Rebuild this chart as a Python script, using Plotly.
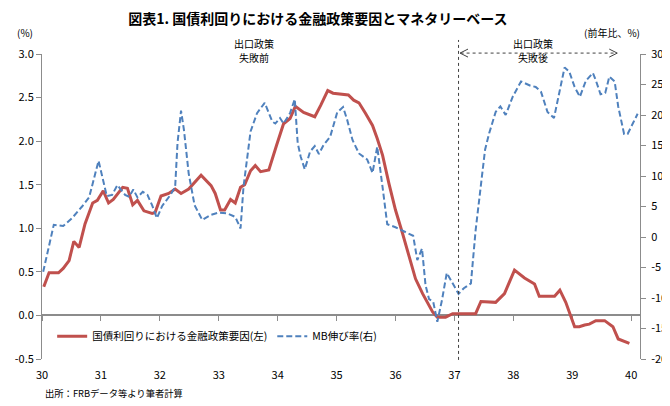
import plotly.graph_objects as go

# ---- data (x in years) ----
red_x = [30.03, 30.12, 30.28, 30.36, 30.46, 30.54, 30.63, 30.73, 30.86, 30.94,
         31.04, 31.13, 31.21, 31.37, 31.45, 31.54, 31.62, 31.73, 31.87, 31.92,
         32.02, 32.15, 32.26, 32.36, 32.49, 32.60, 32.70, 32.87, 32.94, 33.03,
         33.10, 33.20, 33.28, 33.37, 33.44, 33.54, 33.62, 33.71, 33.85, 33.98,
         34.10, 34.21, 34.30, 34.44, 34.63, 34.73, 34.85, 34.94, 35.20, 35.29,
         35.38, 35.49, 35.61, 35.69, 35.78, 35.89, 36.00, 36.12, 36.23, 36.34,
         36.46, 36.54, 36.63, 36.71, 36.85, 36.97, 37.36, 37.45, 37.70, 37.85,
         38.02, 38.19, 38.36, 38.44, 38.70, 38.79, 38.89, 39.04, 39.12, 39.21,
         39.29, 39.40, 39.55, 39.69, 39.78, 39.97]
red_y = [0.33, 0.49, 0.49, 0.54, 0.63, 0.85, 0.78, 1.05, 1.29, 1.32,
         1.43, 1.29, 1.33, 1.47, 1.46, 1.27, 1.32, 1.20, 1.17, 1.18,
         1.37, 1.40, 1.45, 1.40, 1.45, 1.54, 1.61, 1.49, 1.40, 1.21,
         1.21, 1.33, 1.29, 1.47, 1.50, 1.66, 1.72, 1.65, 1.67, 1.95,
         2.20, 2.26, 2.40, 2.33, 2.28, 2.41, 2.58, 2.55, 2.53, 2.47,
         2.44, 2.32, 2.18, 2.03, 1.84, 1.51, 1.21, 0.94, 0.67, 0.42,
         0.25, 0.15, 0.04, -0.02, -0.02, 0.02, 0.02, 0.16, 0.15, 0.25,
         0.52, 0.43, 0.36, 0.22, 0.22, 0.29, 0.15, -0.13, -0.13, -0.11,
         -0.10, -0.06, -0.06, -0.13, -0.27, -0.32]

blue_x = [30.02, 30.11, 30.20, 30.36, 30.51, 30.68, 30.80, 30.96, 31.10, 31.19,
          31.28, 31.41, 31.48, 31.55, 31.62, 31.71, 31.79, 31.87, 31.95, 32.04,
          32.18, 32.26, 32.30, 32.36, 32.41, 32.49, 32.59, 32.72, 32.86, 33.00,
          33.14, 33.28, 33.37, 33.42, 33.48, 33.54, 33.65, 33.78, 33.91, 33.96,
          34.04, 34.10, 34.21, 34.29, 34.34, 34.39, 34.46, 34.55, 34.63, 34.70,
          34.78, 34.89, 35.01, 35.11, 35.18, 35.27, 35.38, 35.52, 35.61, 35.69,
          35.78, 35.86, 36.00, 36.14, 36.30, 36.37, 36.45, 36.51, 36.57, 36.64,
          36.71, 36.79, 36.87, 36.97, 37.07, 37.16, 37.28, 37.36, 37.52, 37.59,
          37.70, 37.78, 37.87, 37.99, 38.13, 38.29, 38.38, 38.47, 38.58, 38.69,
          38.78, 38.87, 38.95, 39.04, 39.13, 39.23, 39.35, 39.40, 39.48, 39.56,
          39.63, 39.72, 39.78, 39.88, 39.94, 40.03, 40.11]
blue_y = [-5.7, -1.6, 2.0, 1.8, 3.1, 5.0, 6.5, 12.5, 6.7, 6.9,
          8.5, 6.9, 6.6, 7.8, 6.5, 7.4, 6.9, 5.2, 3.1, 5.1,
          6.9, 8.2, 15.4, 20.7, 17.5, 10.4, 5.2, 2.8, 3.6, 4.0,
          3.9, 3.3, 1.4, 8.2, 13.2, 17.3, 20.3, 22.0, 18.9, 18.6,
          19.5, 18.6, 20.3, 22.6, 15.4, 13.2, 11.1, 14.0, 14.9, 13.6,
          15.1, 16.4, 20.4, 21.3, 19.2, 15.9, 13.7, 12.7, 10.5, 14.8,
          8.2, 2.1, 1.6, 0.9, 0.2, -3.8, -1.9, -7.9, -10.2, -10.6,
          -13.9, -10.3, -5.9, -7.6, -9.3, -8.4, -7.6, 1.1, 14.3, 17.0,
          20.5, 21.4, 20.0, 23.0, 25.5, 24.8, 24.6, 23.8, 20.5, 19.5,
          23.6, 27.8, 27.1, 24.6, 23.0, 25.6, 26.9, 25.7, 23.4, 23.6,
          26.3, 25.5, 21.4, 16.9, 16.9, 18.6, 20.2]

x_ticks = [30, 31, 32, 33, 34, 35, 36, 37, 38, 39, 40]
left_ticks = [-0.5, 0.0, 0.5, 1.0, 1.5, 2.0, 2.5, 3.0]
right_ticks = [-20, -15, -10, -5, 0, 5, 10, 15, 20, 25, 30]
exit_year = 37.07

red_name = "国債利回りにおける金融政策要因(左)"
blue_name = "MB伸び率(右)"
title_text = "図表1. 国債利回りにおける金融政策要因とマネタリーベース"
source_text = "出所：FRBデータ等より筆者計算"
phase_line1 = "出口政策"
phase_before = "失敗前"
phase_after = "失敗後"

FONT = "Noto Sans CJK JP, sans-serif"
AXC = "#8c8c8c"
XR = [30, 40.15]
W, H = 662, 398

fig = go.Figure()
fig.add_trace(go.Scatter(x=red_x, y=red_y, mode="lines", name=red_name,
                         line=dict(color="#C0504D", width=3), yaxis="y"))
fig.add_trace(go.Scatter(x=blue_x, y=blue_y, mode="lines", name=blue_name,
                         line=dict(color="#4F81BD", width=2, dash="6px,3px"),
                         yaxis="y2"))
# helper trace binding the zero-level axis
fig.add_trace(go.Scatter(x=[30, 40], y=[None, None], xaxis="x2", yaxis="y",
                         showlegend=False, hoverinfo="skip", mode="lines"))

fig.update_layout(
    width=W, height=H, autosize=False,
    margin=dict(l=34, r=30, t=46, b=47, autoexpand=False),
    paper_bgcolor="white", plot_bgcolor="white",
    font=dict(family=FONT, size=11, color="black"),
    showlegend=True,
    legend=dict(orientation="h", x=0.017, y=0.075, xanchor="left", yanchor="middle",
                bgcolor="rgba(0,0,0,0)", font=dict(size=10.5), itemwidth=30),
    title=dict(text="<b>" + title_text + "</b>", x=0.468, xanchor="center",
               y=0.9724, yanchor="middle", font=dict(size=14)),
    xaxis=dict(range=XR, tickvals=x_ticks, ticktext=[str(v) for v in x_ticks],
               showline=False, showgrid=False, zeroline=False, ticks="",
               ticklabelstandoff=8, tickfont=dict(size=11), automargin=False),
    xaxis2=dict(range=XR, overlaying="x", anchor="free", position=1/7,
                tickvals=x_ticks, showticklabels=False, showline=True,
                linecolor=AXC, linewidth=2, ticks="outside", ticklen=5,
                tickcolor=AXC, tickwidth=1, showgrid=False, zeroline=False,
                layer="below traces", automargin=False),
    yaxis=dict(range=[-0.5, 3.0], tickvals=left_ticks,
               ticktext=[f"{v:.1f}" for v in left_ticks],
               showline=True, linecolor=AXC, linewidth=1, ticks="outside",
               ticklen=5, tickcolor=AXC, showgrid=False, zeroline=False,
               tickfont=dict(size=11), automargin=False),
    yaxis2=dict(range=[-20, 30], tickvals=right_ticks,
                ticktext=[str(v) for v in right_ticks],
                overlaying="y", side="right",
                showline=True, linecolor=AXC, linewidth=1, ticks="outside",
                ticklen=5, tickcolor=AXC, showgrid=False, zeroline=False,
                ticklabelstandoff=3, tickfont=dict(size=11), automargin=False),
)

# vertical dotted line at exit
fig.add_shape(type="line", xref="x", yref="paper", x0=exit_year, x1=exit_year,
              y0=-0.003, y1=1.046, line=dict(color="#404040", width=1, dash="dot"))
# double-headed dotted arrow
ay = 1.003
fig.add_shape(type="line", xref="paper", yref="paper", x0=0.70, x1=0.961,
              y0=ay, y1=ay, line=dict(color="#404040", width=1, dash="dot"))
dx, dy = 0.0134, 0.0131
fig.add_shape(type="path", xref="paper", yref="paper",
              path=f"M {0.699+dx} {ay+dy} L 0.699 {ay} L {0.699+dx} {ay-dy}",
              line=dict(color="#404040", width=1))
fig.add_shape(type="path", xref="paper", yref="paper",
              path=f"M {0.962-dx} {ay+dy} L 0.962 {ay} L {0.962-dx} {ay-dy}",
              line=dict(color="#404040", width=1))

ann = [
    dict(text="(%)", x=-0.028, y=1.069, xref="paper", yref="paper",
         xanchor="center", font=dict(size=10)),
    dict(text="(前年比、%)", x=0.953, y=1.069, xref="paper", yref="paper",
         xanchor="center", font=dict(size=10)),
    dict(text=phase_line1, x=33.59, y=1.034, xref="x", yref="paper",
         xanchor="center", font=dict(size=10)),
    dict(text=phase_before, x=33.59, y=0.987, xref="x", yref="paper",
         xanchor="center", font=dict(size=10)),
    dict(text=phase_line1, x=38.33, y=1.034, xref="x", yref="paper",
         xanchor="center", font=dict(size=10)),
    dict(text=phase_after, x=38.33, y=0.987, xref="x", yref="paper",
         xanchor="center", font=dict(size=10)),
    dict(text=source_text, x=0.003, y=-0.111, xref="paper", yref="paper",
         xanchor="left", font=dict(size=9.3)),
]
for a in ann:
    fig.add_annotation(showarrow=False, yanchor="middle", borderpad=0, **a)

fig.write_html("out.html")
